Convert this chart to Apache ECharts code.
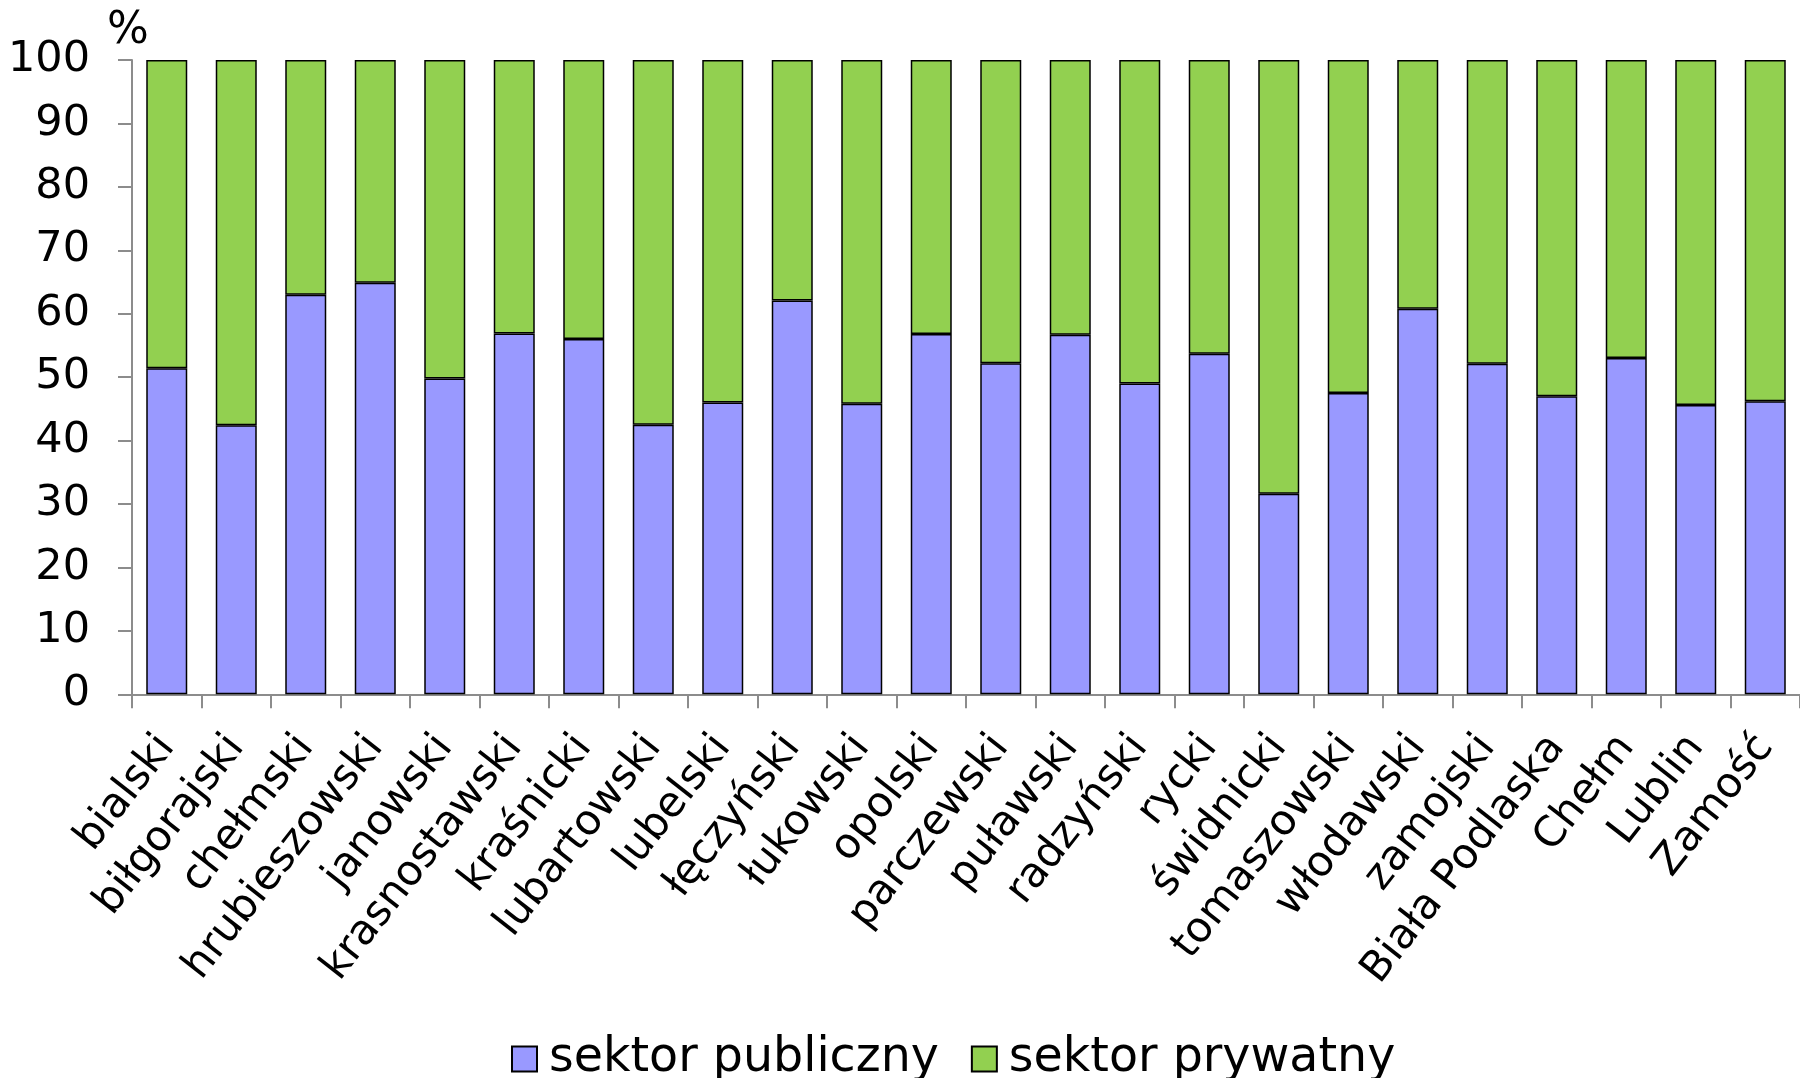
<!DOCTYPE html>
<html>
<head>
<meta charset="utf-8">
<script src="https://cdn.jsdelivr.net/npm/echarts@6/dist/echarts.min.js"></script>
<style>html,body{margin:0;padding:0;background:#fff}#c{width:1800px;height:1078px}</style>
</head>
<body>
<div id="c"></div>
<script>
const categories = ['bialski','biłgorajski','chełmski','hrubieszowski','janowski','krasnostawski','kraśnicki','lubartowski','lubelski','łęczyński','łukowski','opolski','parczewski','puławski','radzyński','rycki','świdnicki','tomaszowski','włodawski','zamojski','Biała Podlaska','Chełm','Lublin','Zamość'];
const publicSector = [51.4, 42.4, 63.0, 64.9, 49.8, 56.9, 56.0, 42.5, 46.0, 62.1, 45.8, 56.8, 52.2, 56.7, 49.0, 53.7, 31.6, 47.5, 60.8, 52.1, 47.0, 53.0, 45.6, 46.2];
const privateSector = [48.6, 57.6, 37.0, 35.1, 50.2, 43.1, 44.0, 57.5, 54.0, 37.9, 54.2, 43.2, 47.8, 43.3, 51.0, 46.3, 68.4, 52.5, 39.2, 47.9, 53.0, 47.0, 54.4, 53.8];
const seriesNames = ['sektor publiczny', 'sektor prywatny'];
const yTicks = {min: 0, max: 100, interval: 10};

const FONT = 'DejaVu Sans';
const chart = echarts.init(document.getElementById('c'), null, {renderer: 'canvas'});
chart.setOption({
  animation: false,
  backgroundColor: '#fff',
  textStyle: {fontFamily: FONT, color: '#000'},
  grid: {left: 132, top: 60, height: 634.3, width: 1677.6, containLabel: false},
  legend: {
    left: 506, top: 1030,
    itemWidth: 25, itemHeight: 25, itemGap: 32,
    icon: 'rect',
    textStyle: {fontFamily: FONT, fontSize: 47.5, color: '#000', lineHeight: 46, padding: [0, 0, 0, 7]},
    data: seriesNames
  },
  xAxis: {
    type: 'category',
    data: categories,
    boundaryGap: true,
    axisLine: {show: true, lineStyle: {color: '#8c8c8c', width: 2}},
    axisTick: {show: true, length: 14, alignWithLabel: false, lineStyle: {color: '#8c8c8c', width: 2}},
    axisLabel: {interval: 0, rotate: 52, fontSize: 42, color: '#000', fontFamily: FONT, margin: 46}
  },
  yAxis: {
    type: 'value',
    min: yTicks.min, max: yTicks.max, interval: yTicks.interval,
    name: '%',
    nameLocation: 'end',
    nameGap: 6,
    nameTextStyle: {fontSize: 44, color: '#000', fontFamily: FONT, align: 'center', padding: [0, 8, 0, 0]},
    axisLine: {show: true, lineStyle: {color: '#8c8c8c', width: 2}},
    axisTick: {show: true, length: 14, lineStyle: {color: '#8c8c8c', width: 2}},
    splitLine: {show: false},
    axisLabel: {fontSize: 43, color: '#000', fontFamily: FONT, margin: 42}
  },
  series: [
    {
      name: seriesNames[0], type: 'bar', stack: 's', data: publicSector, barWidth: 41,
      itemStyle: {color: '#9999FF', borderColor: '#000', borderWidth: 1.5}
    },
    {
      name: seriesNames[1], type: 'bar', stack: 's', data: privateSector, barWidth: 41,
      itemStyle: {color: '#92D050', borderColor: '#000', borderWidth: 1.5}
    }
  ]
});
</script>
</body>
</html>
